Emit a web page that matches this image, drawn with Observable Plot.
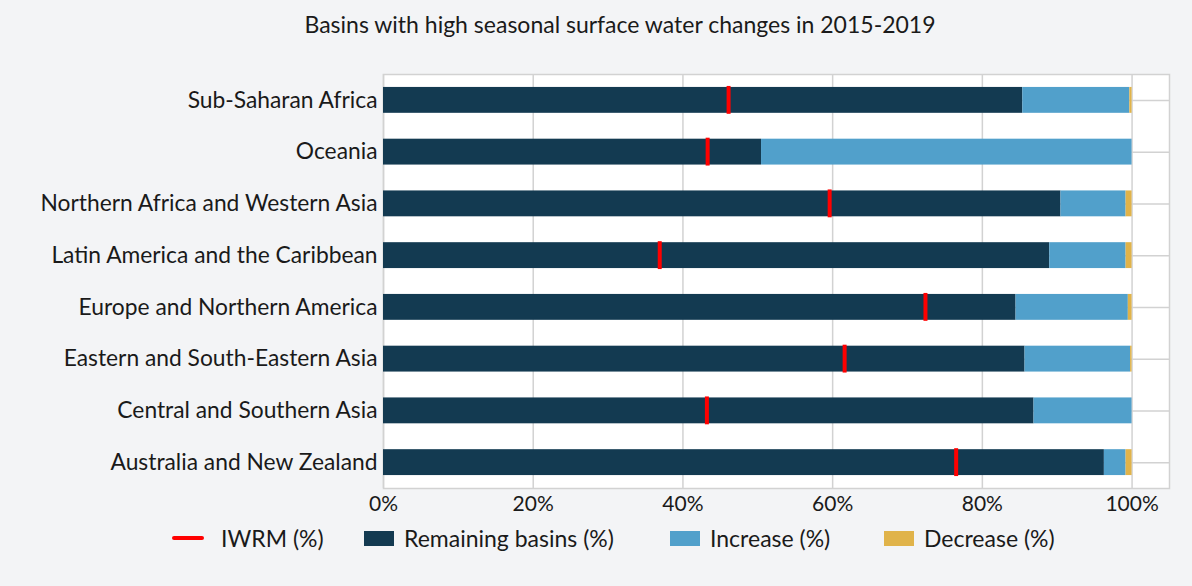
<!DOCTYPE html>
<html>
<head>
<meta charset="utf-8">
<script src="https://cdn.jsdelivr.net/npm/d3@7"></script>
<script src="https://cdn.jsdelivr.net/npm/@observablehq/plot@0.6"></script>
<style>
  html, body { margin: 0; padding: 0; background: #f3f4f6; }
  body { width: 1192px; height: 586px; position: relative; overflow: hidden; font-family: "Lato", "Open Sans", sans-serif; color: #1a1a1a; }
  #title { height: 50px; line-height: 48px; text-align: center; font-size: 23px; padding-left: 48px; box-sizing: border-box; }
  #chart svg { display: block; }
  #legend { position: relative; height: 36px; font-size: 23px; }
  .item { position: absolute; top: 0; height: 36px; display: flex; align-items: center; }
  .sw { width: 30px; height: 15px; margin-right: 10px; }
  .ln { width: 32px; height: 3.5px; border-radius: 2px; margin-right: 17px; }
</style>
</head>
<body>
<div id="title">Basins with high seasonal surface water changes in 2015-2019</div>
<div id="chart"></div>
<div id="legend"></div>
<script>
const regions = [
  "Sub-Saharan Africa",
  "Oceania",
  "Northern Africa and Western Asia",
  "Latin America and the Caribbean",
  "Europe and Northern America",
  "Eastern and South-Eastern Asia",
  "Central and Southern Asia",
  "Australia and New Zealand"
];
const remaining = [85.4, 50.5, 90.5, 89.0, 84.5, 85.7, 86.9, 96.3];
const increase  = [14.3, 49.5, 8.7, 10.2, 15.0, 14.1, 13.1, 2.9];
const decrease  = [0.3, 0.0, 0.8, 0.8, 0.5, 0.2, 0.0, 0.8];
const iwrm      = [46.1, 43.3, 59.6, 36.9, 72.4, 61.6, 43.2, 76.5];
const xTicks = [0, 20, 40, 60, 80, 100];

const seriesNames = ["Remaining basins (%)", "Increase (%)", "Decrease (%)"];
const seriesColors = ["#133a51", "#51a0cb", "#e0b34a"];
const iwrmName = "IWRM (%)";
const iwrmColor = "#ff0000";

const segments = [];
regions.forEach((r, i) => {
  segments.push({region: r, series: seriesNames[0], value: remaining[i]});
  segments.push({region: r, series: seriesNames[1], value: increase[i]});
  segments.push({region: r, series: seriesNames[2], value: decrease[i]});
});
const marks = regions.map((r, i) => ({region: r, value: iwrm[i]}));

const chart = Plot.plot({
  width: 1192,
  height: 470,
  marginTop: 24,
  marginBottom: 32,
  marginLeft: 383,
  marginRight: 23,
  style: {fontFamily: "Lato, 'Open Sans', sans-serif", background: "transparent", color: "#1a1a1a"},
  x: {domain: [0, 105], ticks: xTicks, tickFormat: d => d + "%"},
  y: {domain: regions, paddingInner: 0.5, paddingOuter: 0.25, round: false},
  color: {domain: seriesNames, range: seriesColors},
  marks: [
    Plot.frame({fill: "white", stroke: "#d2d2d2", strokeWidth: 1.5}),
    Plot.gridX(xTicks, {stroke: "#d2d2d2", strokeOpacity: 1, strokeWidth: 1.5}),
    Plot.gridY({stroke: "#d2d2d2", strokeOpacity: 1, strokeWidth: 1.5}),
    Plot.barX(segments, {y: "region", x: "value", fill: "series", order: seriesNames}),
    Plot.tickX(marks, {x: "value", y: "region", stroke: iwrmColor, strokeWidth: 4, insetTop: -1, insetBottom: -1}),
    Plot.axisX(xTicks, {tickSize: 0, tickPadding: 8, fontSize: 21, label: null, tickFormat: d => d + "%"}),
    Plot.axisY({tickSize: 0, tickPadding: 6, fontSize: 22.8, label: null})
  ]
});
document.getElementById("chart").appendChild(chart);

// legend
const legend = document.getElementById("legend");
const items = [
  {name: iwrmName, color: iwrmColor, line: true, left: 172},
  {name: seriesNames[0], color: seriesColors[0], left: 364},
  {name: seriesNames[1], color: seriesColors[1], left: 670},
  {name: seriesNames[2], color: seriesColors[2], left: 884}
];
items.forEach(it => {
  const d = document.createElement("div");
  d.className = "item";
  d.style.left = it.left + "px";
  const s = document.createElement("div");
  s.className = it.line ? "ln" : "sw";
  s.style.background = it.color;
  const t = document.createElement("span");
  t.textContent = it.name;
  d.appendChild(s); d.appendChild(t);
  legend.appendChild(d);
});
</script>
</body>
</html>
